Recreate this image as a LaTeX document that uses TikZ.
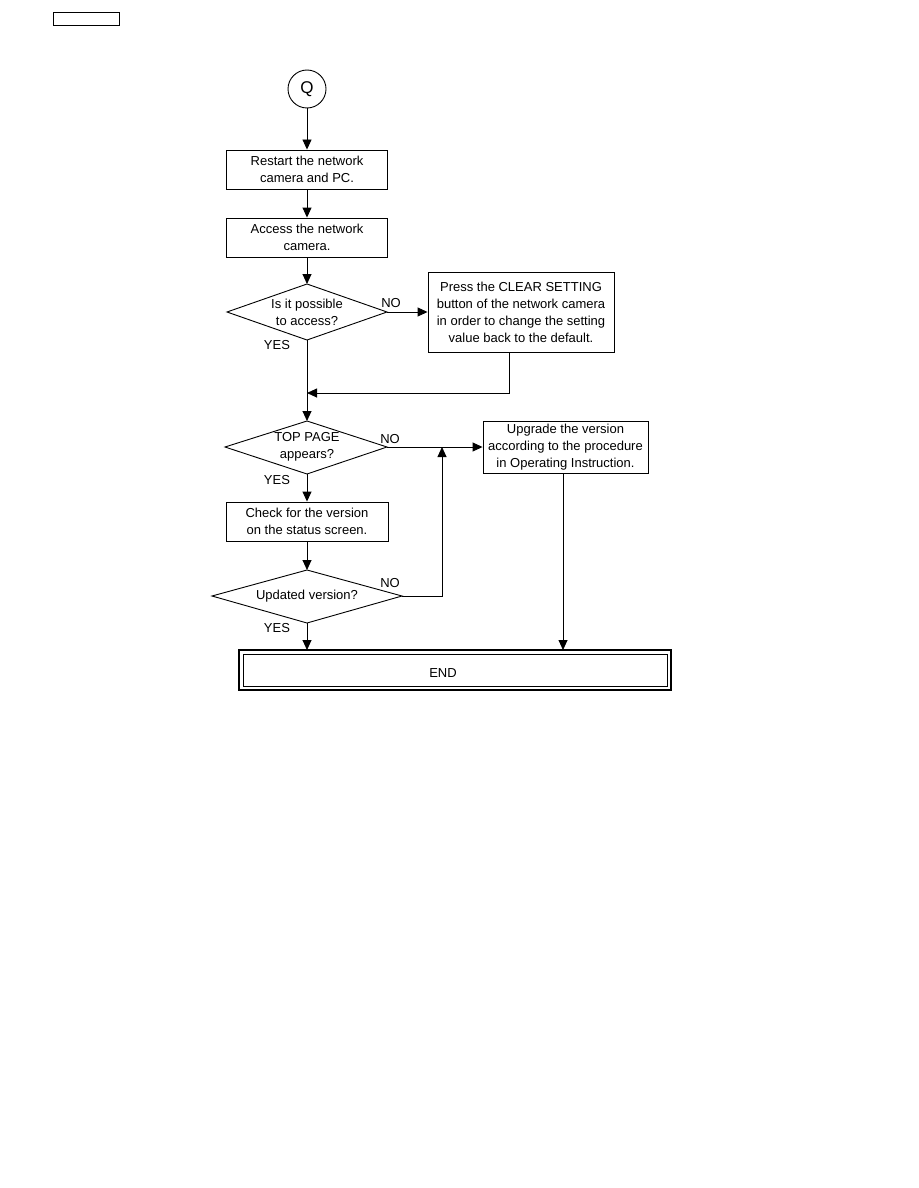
\documentclass[tikz,border=0pt]{standalone}
\usepackage{fontspec}
\setmainfont{Liberation Sans}
\usetikzlibrary{arrows.meta,shapes.geometric}
\begin{document}
\begin{tikzpicture}[x=1pt,y=-1pt,
  every node/.style={font=\fontsize{13}{17}\selectfont},
  line/.style={line width=0.9pt},
  arr/.style={line width=0.9pt,-{Triangle[length=10pt,width=9pt]}},
  procbox/.style={draw,line width=0.9pt,align=center,inner sep=0pt},
  lbl/.style={inner sep=0pt}
]
\useasboundingbox (0,0) rectangle (918,1188);
% top-left header box
\node[draw,line width=1pt,minimum width=66pt,minimum height=13pt,inner sep=0pt] (hdr) at (86,19.5) {};
% start circle
\node[draw,circle,line width=0.9pt,minimum size=38pt,inner sep=0pt,font=\fontsize{17}{20}\selectfont] (q) at (307,89) {Q};
% boxes
\node[procbox,minimum width=161pt,minimum height=39pt] (b1) at (307,169.5) {Restart the network\\camera and PC.};
\node[procbox,minimum width=161pt,minimum height=39pt] (b2) at (307,237.5) {Access the network\\camera.};
% diamond 1
\draw[line] (227,312) coordinate (d1l) -- (307,284) coordinate (d1t) -- (387,312) coordinate (d1r) -- (307,340) coordinate (d1b) -- cycle;
\node[lbl,align=center] (d1txt) at (307,312) {Is it possible\\to access?};
\node[lbl] (no1) at (391,303) {NO};
\node[lbl] (yes1) at (277,345) {YES};
% box3
\node[procbox,minimum width=186pt,minimum height=80pt] (b3) at (521,312) {Press the CLEAR SETTING\\button of the network camera\\in order to change the setting\\value back to the default.};
% diamond 2
\draw[line] (225,447) coordinate (d2l) -- (307,421) coordinate (d2t) -- (387,447) coordinate (d2r) -- (307,474) coordinate (d2b) -- cycle;
\node[lbl,align=center] (d2txt) at (307,447) {TOP PAGE\\appears?};
\node[lbl] (no2) at (390,439) {NO};
\node[lbl] (yes2) at (277,480) {YES};
% box4
\node[procbox,minimum width=165pt,minimum height=52pt] (b4) at (565.5,447) {Upgrade the version\\according to the procedure\\in Operating Instruction.};
% box5
\node[procbox,minimum width=162pt,minimum height=39pt] (b5) at (307,521.5) {Check for the version\\on the status screen.};
% diamond 3
\draw[line] (212,596) coordinate (d3l) -- (307,570) coordinate (d3t) -- (402,596) coordinate (d3r) -- (307,623) coordinate (d3b) -- cycle;
\node[lbl] (d3txt) at (307,596) {Updated version?};
\node[lbl] (no3) at (390,583) {NO};
\node[lbl] (yes3) at (277,628) {YES};
% END
\node[draw,line width=1.3pt,minimum width=432pt,minimum height=40pt,inner sep=0pt] (endb) at (455,670) {};
\node[draw,line width=0.9pt,minimum width=424pt,minimum height=32pt,inner sep=0pt] (endi) at (455,670) {};
\node[lbl] (endt) at (443,673) {END};
% connectors
\draw[arr] (q.south) -- (b1.north);
\draw[arr] (b1.south) -- (b2.north);
\draw[arr] (b2.south) -- (d1t);
\draw[arr] (d1r) -- (b3.west);
\draw[line] (d1b) -- (307,393) coordinate (m1);
\draw[arr] (m1) -- (d2t);
\draw[arr] (b3.south) ++(-12,0) coordinate (b3s) -- (b3s |- m1) -- (m1);
\draw[arr] (d2r) -- (b4.west);
\draw[arr] (d2b) -- (b5.north);
\draw[arr] (b5.south) -- (d3t);
\draw[arr] (d3b) -- (307,650) coordinate (e1);
\draw[arr] (d3r) -- (442,596) coordinate (c3) -- (c3 |- d2r);
\draw[arr] (b4.south) ++(-2.5,0) coordinate (b4s) -- (b4s |- e1);
\end{tikzpicture}
\end{document}
